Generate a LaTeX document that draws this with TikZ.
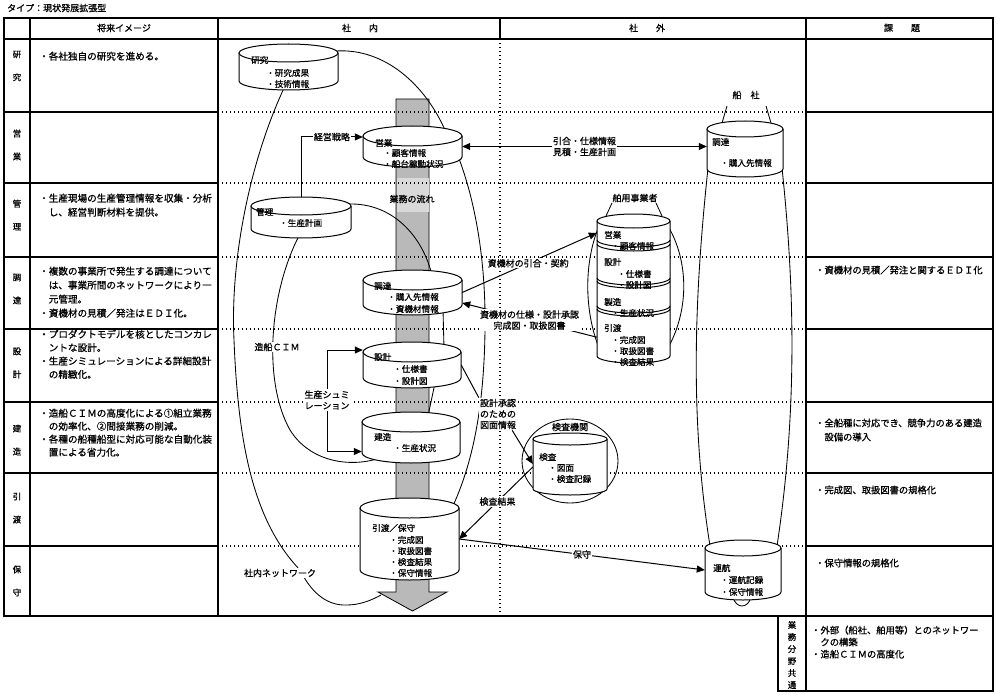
\documentclass[tikz,border=0pt]{standalone}
\usepackage{fontspec}
\setmainfont{Noto Sans CJK JP}[FakeBold=0.8]
\usetikzlibrary{arrows.meta,fit}
\pgfdeclarelayer{bg}
\pgfsetlayers{bg,main}
\newcommand{\drawcyl}[6]{%
  \pgfmathsetmacro{\cyxc}{(#2+#3)/2}%
  \pgfmathsetmacro{\cyrx}{(#3-#2)/2}%
  \pgfmathsetmacro{\cykx}{0.5523*\cyrx}%
  \pgfmathsetmacro{\cybe}{#5+#6}%
  \pgfmathsetmacro{\cybk}{#5+0.5523*#6}%
  \pgfmathsetmacro{\cyxl}{\cyxc-\cykx}%
  \pgfmathsetmacro{\cyxr}{\cyxc+\cykx}%
  \pgfmathsetmacro{\cytp}{#4-#6}%
  \filldraw[cylst,fill=white] (#2,#4) -- (#2,#5) .. controls (#2,\cybk) and (\cyxl,\cybe) .. (\cyxc,\cybe) .. controls (\cyxr,\cybe) and (#3,\cybk) .. (#3,#5) -- (#3,#4);
  \draw[cylst,fill=white] (\cyxc,#4) ellipse [x radius=\cyrx, y radius=#6];
  \node[fit={(#2,\cytp) (#3,\cybe)}, inner sep=0pt] (#1) {};
}
\newcommand{\cylarc}[4]{%
  \pgfmathsetmacro{\cyxc}{(#1+#2)/2}%
  \pgfmathsetmacro{\cykx}{0.5523*(#2-#1)/2}%
  \pgfmathsetmacro{\cybe}{#3+#4}%
  \pgfmathsetmacro{\cybk}{#3+0.5523*#4}%
  \pgfmathsetmacro{\cyxl}{\cyxc-\cykx}%
  \pgfmathsetmacro{\cyxr}{\cyxc+\cykx}%
  \draw[cylst] (#1,#3) .. controls (#1,\cybk) and (\cyxl,\cybe) .. (\cyxc,\cybe) .. controls (\cyxr,\cybe) and (#2,\cybk) .. (#2,#3);
}
\tikzset{
  tbl/.style={line width=1.2pt},
  dotl/.style={line width=1.2pt, dash pattern=on 1.2pt off 2.8pt},
  cylst/.style={line width=1pt},
  crv/.style={line width=0.85pt},
  arr/.style={line width=1pt, -{Triangle[length=8pt,width=7pt]}},
  darr/.style={line width=1pt, {Triangle[length=8pt,width=7pt]}-{Triangle[length=8pt,width=7pt]}},
  lbl/.style={fill=white, inner sep=1pt, align=center, font=\fontsize{9}{11}\selectfont},
  ctxt/.style={anchor=west, inner sep=0pt, font=\fontsize{8.6}{10}\selectfont},
  ltxt/.style={anchor=north west, inner sep=0pt, align=left, font=\fontsize{9.6}{14}\selectfont},
  rtxt/.style={anchor=north west, inner sep=0pt, align=left, font=\fontsize{9.3}{14}\selectfont},
  rlab/.style={inner sep=0pt, align=center, font=\fontsize{8.5}{23}\selectfont},
  hdr/.style={inner sep=0pt, font=\fontsize{9}{11}\selectfont},
  plain/.style={inner sep=0pt, font=\fontsize{9}{11}\selectfont},
  barst/.style={fill=gray!55, draw=black, line width=0.8pt},
}
\begin{document}
\begin{tikzpicture}[x=1pt,y=-1pt]
\useasboundingbox (0,0) rectangle (1000,695);

% ---------- cylinders ----------
\drawcyl{kenkyu}{239}{338}{53}{81}{9}
\drawcyl{eigyo}{363}{462}{136}{157}{10}
\drawcyl{kanri}{251}{351}{206}{229}{9}
\drawcyl{chotatsu}{363}{462}{280}{305}{10}
\drawcyl{sekkei}{363}{461}{352}{378}{10}
\drawcyl{kenzo}{362}{460}{422}{453}{10}
\drawcyl{hikiwatashi}{360}{459}{508}{570}{10}
\drawcyl{sensha}{707}{783}{129}{169}{8}
\drawcyl{unko}{705}{781}{548}{592}{8}
\drawcyl{kensa}{533}{607}{439}{489}{6}
\drawcyl{hakuyo}{597}{670}{221}{356}{7}
\cylarc{597}{670}{240}{7}
\cylarc{597}{670}{244}{7}
\cylarc{597}{670}{278}{7}
\cylarc{597}{670}{281}{7}
\cylarc{597}{670}{306}{7}
\cylarc{597}{670}{309}{7}

% ---------- background layer ----------
\begin{pgfonlayer}{bg}
\fill[white] (0,0) rectangle (1000,695);
% table
\draw[tbl] (4,18) rectangle (993,616);
\draw[tbl] (4,39) -- (993,39);
\draw[tbl] (30,18) -- (30,616);
\draw[tbl] (218,18) -- (218,616);
\draw[tbl] (500,18) -- (500,39);
\draw[tbl] (806,18) -- (806,616);
\foreach \yy in {112,183,257,329,402,473,546} {
  \draw[tbl] (4,\yy) -- (218,\yy);
  \draw[tbl] (806,\yy) -- (993,\yy);
}
\draw[tbl] (778,616) rectangle (993,691);
\draw[tbl] (806,616) -- (806,691);
% flow bar
\draw[barst] (396,99) -- (429,99) -- (429,592) -- (447,592) -- (412.5,611) -- (378,592) -- (396,592) -- cycle;
\fill[gray!30] (396.5,178) rectangle (428.5,212);
% dotted grid
\draw[dotl] (500,39) -- (500,616);
\foreach \yy in {112,183,257,329,402,473,546} {
  \draw[dotl] (218,\yy) -- (806,\yy);
}
% outer network loop
\draw[crv] (336,51) .. controls (385,48) and (425,85) .. (445,130) -- (458,156)
  .. controls (475,200) and (486,260) .. (485,330) .. controls (484,410) and (472,465) .. (452,508);
\draw[crv] (285,86) .. controls (250,160) and (230,260) .. (234,340) .. controls (238,440) and (252,520) .. (300,570)
  .. controls (310,590) and (325,606) .. (347,605) .. controls (360,605) and (372,600) .. (381,595);
% inner CIM loop
\draw[crv] (349,204) .. controls (392,203) and (422,235) .. (432,275);
\draw[crv] (443,310) -- (444,348);
\draw[crv] (435,383) -- (428,416);
\draw[crv] (300,234) .. controls (270,290) and (262,380) .. (290,430) .. controls (310,462) and (350,468) .. (380,458);
% ship owner enclosure
\draw[crv] (727,106) -- (722,123);
\draw[crv] (766,106) -- (771,123);
\draw[crv] (708,168) .. controls (694,300) and (690,420) .. (710,546);
\draw[crv] (782,168) .. controls (796,300) and (796,420) .. (777,546);
\draw[crv] (733,597) .. controls (736,609) and (748,609) .. (751,597);
% marine equipment enclosure
\draw[crv] (612,203) -- (606,216);
\draw[crv] (656,203) -- (662,216);
\draw[crv] (599,226) .. controls (584,262) and (584,310) .. (599,348);
\draw[crv] (668,226) .. controls (689,262) and (689,310) .. (668,348);
% inspection agency circle
\draw[crv] (570,461) ellipse [x radius=48, y radius=42];
\end{pgfonlayer}

% ---------- title and table texts ----------
\node[anchor=west, inner sep=0pt, font=\fontsize{9}{11}\selectfont] (title) at (7,8) {タイプ：現状発展拡張型};
\node[hdr] (h1) at (124,28) {将来イメージ};
\node[hdr] (h2) at (360,28) {社　　内};
\node[hdr] (h3) at (647,28) {社　　外};
\node[hdr] (h4) at (902,28) {課　　題};

\node[rlab] (r1) at (17,66) {研\\究};
\node[rlab] (r2) at (17,145) {営\\業};
\node[rlab] (r3) at (17,215) {管\\理};
\node[rlab] (r4) at (17,289) {調\\達};
\node[rlab] (r5) at (17,363) {設\\計};
\node[rlab] (r6) at (17,440) {建\\造};
\node[rlab] (r7) at (17,508) {引\\渡};
\node[rlab] (r8) at (17,581) {保\\守};

\node[ltxt] (l1) at (39,51.5) {・各社独自の研究を進める。};
\node[ltxt] (l3) at (39,193.5) {・生産現場の生産管理情報を収集・分析\\　し、経営判断材料を提供。};
\node[ltxt] (l4) at (39,266.5) {・複数の事業所で発生する調達について\\　は、事業所間のネットワークにより一\\　元管理。\\・資機材の見積／発注はＥＤＩ化。};
\node[ltxt, font=\fontsize{9.6}{13.4}\selectfont] (l5) at (39,329.5) {・プロダクトモデルを核としたコンカレ\\　ントな設計。\\・生産シミュレーションによる詳細設計\\　の精緻化。};
\node[ltxt, font=\fontsize{9.6}{13}\selectfont] (l6) at (39,408.5) {・造船ＣＩＭの高度化による①組立業務\\　の効率化、②間接業務の削減。\\・各種の船種船型に対応可能な自動化装\\　置による省力化。};

\node[rtxt] (k4) at (815,265.5) {・資機材の見積／発注と関するＥＤＩ化};
\node[rtxt] (k6) at (815,418.5) {・全船種に対応でき、競争力のある建造\\　設備の導入};
\node[rtxt] (k7) at (815,485.5) {・完成図、取扱図書の規格化};
\node[rtxt] (k8) at (815,558.5) {・保守情報の規格化};
\node[rtxt, font=\fontsize{9.3}{12}\selectfont] (k9) at (811,625.5) {・外部（船社、舶用等）とのネットワー\\　クの構築\\・造船ＣＩＭの高度化};
\node[inner sep=0pt, align=center, font=\fontsize{8.5}{12}\selectfont] (kyotsu) at (792,655) {業\\務\\分\\野\\共\\通};

% ---------- cylinder texts ----------
\node[ctxt] (c1a) at (251,60) {研究};
\node[ctxt] (c1b) at (266,73) {・研究成果};
\node[ctxt] (c1c) at (266,84) {・技術情報};
\node[ctxt] (c2a) at (375,143) {営業};
\node[ctxt] (c2b) at (383,153) {・顧客情報};
\node[ctxt] (c2c) at (383,164) {・船台稼動状況};
\node[ctxt] (c3a) at (256,212) {管理};
\node[ctxt] (c3b) at (279,223) {・生産計画};
\node[ctxt] (c4a) at (374,286) {調達};
\node[ctxt] (c4b) at (387,297) {・購入先情報};
\node[ctxt] (c4c) at (387,309) {・資機材情報};
\node[ctxt] (c5a) at (374,357) {設計};
\node[ctxt] (c5b) at (393,369) {・仕様書};
\node[ctxt] (c5c) at (393,381) {・設計図};
\node[ctxt] (c6a) at (374,437) {建造};
\node[ctxt] (c6b) at (393,448) {・生産状況};
\node[ctxt] (c7a) at (372,528) {引渡／保守};
\node[ctxt] (c7b) at (389,540) {・完成図};
\node[ctxt] (c7c) at (389,551) {・取扱図書};
\node[ctxt] (c7d) at (389,562) {・検査結果};
\node[ctxt] (c7e) at (389,573) {・保守情報};
\node[ctxt] (c8a) at (712,142) {調達};
\node[ctxt] (c8b) at (720,163) {・購入先情報};
\node[ctxt] (c9a) at (713,568) {運航};
\node[ctxt] (c9b) at (720,580) {・運航記録};
\node[ctxt] (c9c) at (720,592) {・保守情報};
\node[ctxt] (c10a) at (539,457) {検査};
\node[ctxt] (c10b) at (548,468) {・図面};
\node[ctxt] (c10c) at (548,479) {・検査記録};
\node[ctxt] (c11a) at (604,235) {営業};
\node[ctxt] (c11b) at (611,246) {・顧客情報};
\node[ctxt] (c11c) at (604,262) {設計};
\node[ctxt] (c11d) at (617,274) {・仕様書};
\node[ctxt] (c11e) at (617,285) {・設計図};
\node[ctxt] (c11f) at (604,302) {製造};
\node[ctxt] (c11g) at (611,313) {・生産状況};
\node[ctxt] (c11h) at (604,328) {引渡};
\node[ctxt] (c11i) at (611,340) {・完成図};
\node[ctxt] (c11j) at (611,351) {・取扱図書};
\node[ctxt] (c11k) at (611,362) {・検査結果};

% ---------- group labels ----------
\node[plain] (flow) at (412,199) {業務の流れ};
\node[plain] (gsensha) at (746,95) {船　社};
\node[plain] (ghakuyo) at (635,198) {舶用事業者};
\node[plain] (gkensa) at (570,427) {検査機関};
\node[lbl] (lcim) at (277,347) {造船ＣＩＭ};
\node[lbl] (lnet) at (280,573) {社内ネットワーク};

% ---------- connectors ----------
\draw[arr] (kanri.north) |- ([yshift=9.5pt]eigyo.west) node[lbl,pos=0.75] (lkeiei) {経営戦略};
\draw[darr] ([yshift=15pt]sekkei.west) -- ++(-35,0) |- ([yshift=-14pt]kenzo.west);
\node[lbl] (lsim) at (327,400) {生産シュミ\\レーション};
\draw[darr] (eigyo.east) -- (eigyo.east -| sensha.west) node[lbl,midway] (lhiki) {引合・仕様情報\\見積・生産計画};
\draw[arr] (chotatsu.east) -- ([yshift=-19pt]hakuyo.north west) node[lbl,pos=0.49] (lsk1) {資機材の引合・契約};
\draw[arr] ([yshift=26pt]hakuyo.south west) -- ([yshift=-10.5pt]chotatsu.east) node[lbl,pos=0.5] (lsk2) {資機材の仕様・設計承認\\完成図・取扱図書};
\node[lbl] (lsekkei) at (498,414) {設計承認\\のための\\図面情報};
\draw[line width=1pt] (sekkei.east) -- (lsekkei.north west);
\draw[arr] ([xshift=-5pt]lsekkei.south east) -- (kensa.west);
\draw[arr] ([yshift=-3pt]kensa.west) -- (hikiwatashi.east) node[lbl,pos=0.48] (lkensa) {検査結果};
\draw[arr] (hikiwatashi.east) -- (unko.west) node[lbl,midway] (lhosyu) {保守};
\end{tikzpicture}
\end{document}
